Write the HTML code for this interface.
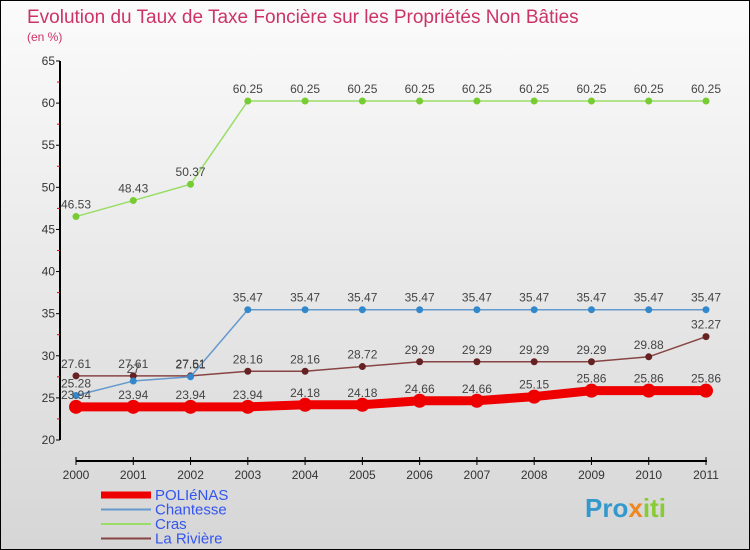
<!DOCTYPE html>
<html><head><meta charset="utf-8"><style>
body{margin:0}
#c{width:750px;height:550px;position:relative;box-sizing:border-box;border:1px solid #000;background:linear-gradient(#fbfbfb,#d6d6d6);font-family:"Liberation Sans","DejaVu Sans",sans-serif;overflow:hidden}
</style></head><body>
<div id="c">
<svg id="s" width="748" height="548" xmlns="http://www.w3.org/2000/svg"></svg>
</div>
<script>
const years=["2000","2001","2002","2003","2004","2005","2006","2007","2008","2009","2010","2011"];
const yTicks=[20,25,30,35,40,45,50,55,60,65];
const polienas=[23.94,23.94,23.94,23.94,24.18,24.18,24.66,24.66,25.15,25.86,25.86,25.86];
const chantesse=[25.28,27,27.51,35.47,35.47,35.47,35.47,35.47,35.47,35.47,35.47,35.47];
const cras=[46.53,48.43,50.37,60.25,60.25,60.25,60.25,60.25,60.25,60.25,60.25,60.25];
const riviere=[27.61,27.61,27.61,28.16,28.16,28.72,29.29,29.29,29.29,29.29,29.88,32.27];
const seriesNames=["POLIéNAS","Chantesse","Cras","La Rivière"];
const s=document.getElementById('s');const NS="http://www.w3.org/2000/svg";
const X=i=>75+i*(630/11);const Y=v=>439-(v-20)*(379/45);
function el(t,a,txt){const e=document.createElementNS(NS,t);for(const k in a)e.setAttribute(k,a[k]);if(txt!==undefined)e.textContent=txt;s.appendChild(e);return e;}
let t=el('text',{x:26,y:22,fill:'#cc3366','font-size':19},'Evolution du Taux de Taxe Foncière sur les Propriétés Non Bâties');

t=el('text',{x:26,y:40,fill:'#cc3366','font-size':12},'(en %)');

let a=el('line',{x1:59,y1:60,x2:59,y2:439,stroke:'#000','stroke-width':2});

a=el('line',{x1:75,y1:460,x2:706,y2:460,stroke:'#000','stroke-width':2});

yTicks.forEach(v=>{el('line',{x1:55,y1:Y(v),x2:59,y2:Y(v),stroke:'#000'});
 const l=el('text',{x:54,y:Y(v)+4,'text-anchor':'end','font-size':12,fill:'#333'},v);
 
 if(v<65){el('line',{x1:56,y1:Y(v+2.5),x2:59,y2:Y(v+2.5),stroke:'#e00'});}});
years.forEach((y,i)=>{el('line',{x1:X(i),y1:456,x2:X(i),y2:464,stroke:'#000'});
 const l=el('text',{x:X(i),y:478,'text-anchor':'middle','font-size':12,fill:'#333'},y);
 });
function series(d,col,dot,w,r,name){
 const p=el('polyline',{points:d.map((v,i)=>X(i)+','+Y(v)).join(' '),fill:'none',stroke:col,'stroke-width':w});
 
 d.forEach((v,i)=>{const c=el('circle',{cx:X(i),cy:Y(v),r:r,fill:dot});
  
  const l=el('text',{x:X(i),y:Y(v)-8,'text-anchor':'middle','font-size':12,fill:'#444'},String(v));
  });
}
series(cras,'#99dd66','#77cc33',1.5,3.5,'cras');
series(riviere,'#884444','#662222',1.5,3.5,'la-riviere');
series(chantesse,'#6699cc','#3388cc',1.5,3.5,'chantesse');
series(polienas,'#ee0000','#ee0000',9,7,'polienas');
const cols=['#ee0000','#6699cc','#99dd66','#884444'],ws=[7,2,2,2];
seriesNames.forEach((n,i)=>{const y=494+i*14.5;
 const ln=el('line',{x1:100,y1:y,x2:150,y2:y,stroke:cols[i],'stroke-width':ws[i]});
 
 const l=el('text',{x:154,y:y+5,'font-size':15,fill:'#3355ee'},n);
 });
const lg=el('text',{x:584,y:516,'font-size':26,'font-weight':'bold',fill:'#3399cc'});

[['Pro','#3399cc'],['x','#ee8822'],['iti','#88cc33']].forEach(([tx,c])=>{const sp=document.createElementNS(NS,'tspan');sp.setAttribute('fill',c);sp.textContent=tx;lg.appendChild(sp);});
</script>
</body></html>
